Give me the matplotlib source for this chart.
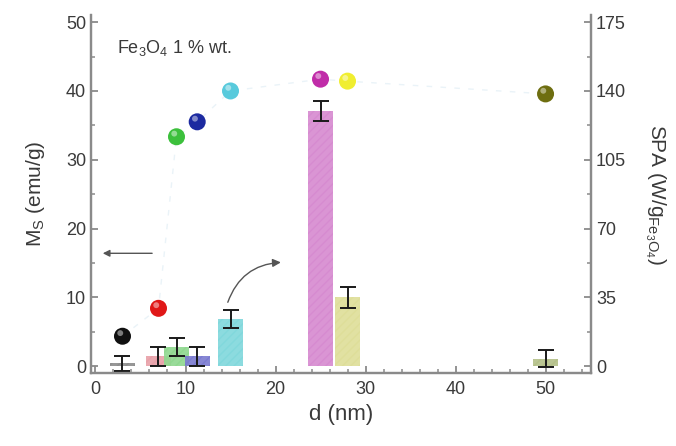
import matplotlib
matplotlib.use("Agg")
import matplotlib.pyplot as plt
from matplotlib.ticker import MultipleLocator

plt.rcParams['font.family'] = ['Liberation Sans', 'DejaVu Sans']

# Data
d_nm = [3, 7, 9, 11.3, 15, 25, 28, 50]
ms_values = [0.4, 1.45, 2.75, 1.45, 6.8, 37.1, 10.0, 1.1]
ms_errors = [1.1, 1.4, 1.3, 1.4, 1.3, 1.4, 1.5, 1.3]
spa_values = [15.2, 29.4, 116.7, 124.3, 140.0, 146.0, 145.0, 138.5]
bar_colors = ['#8c8c8c', '#e8a0a8', '#8ed88e', '#7a7ad0', '#80d8dc', '#d68ad0', '#dede98', '#b4c088']
point_colors = ['#101010', '#e01818', '#3cc03c', '#1c2aa0', '#58cadc', '#c02ca8', '#f0ee30', '#6e6e10']
x_ticks = [0, 10, 20, 30, 40, 50]
ms_ticks = [0, 10, 20, 30, 40, 50]
spa_ticks = [0, 35, 70, 105, 140, 175]

text_c = '#3a3a3a'
spine_c = '#8a8a8a'

fig = plt.figure(figsize=(6.76, 4.46), dpi=100)
ax = fig.add_axes([0.1346, 0.1637, 0.739, 0.802])
ax2 = ax.twinx()

for xi, h, e, c in zip(d_nm, ms_values, ms_errors, bar_colors):
    ax.bar(xi, h, width=2.8, color=c, alpha=0.9, edgecolor=c, hatch='////', linewidth=0, zorder=2)
ax.errorbar(d_nm, ms_values, yerr=ms_errors, fmt='none', ecolor='#1a1a1a',
            elinewidth=1.4, capsize=6, capthick=1.4, zorder=3)

ax2.plot(d_nm, spa_values, color='#eaf3f8', lw=1, ls=(0, (4, 6)), zorder=1)
ax2.scatter(d_nm, spa_values, s=150, c=point_colors, edgecolors='none', zorder=4)
ax2.scatter([x - 0.25 for x in d_nm], [v + 1.6 for v in spa_values], s=18, c='white',
            alpha=0.45, edgecolors='none', zorder=5)

ax.set_xlim(-0.5, 55)
ax.set_ylim(-1, 51)
ax2.set_ylim(-3.5, 178.5)

ax.set_xticks(x_ticks)
ax.set_yticks(ms_ticks)
ax2.set_yticks(spa_ticks)
ax.xaxis.set_minor_locator(MultipleLocator(2))
ax.yaxis.set_minor_locator(MultipleLocator(5))
ax2.yaxis.set_minor_locator(MultipleLocator(17.5))

for a in (ax, ax2):
    for s in a.spines.values():
        s.set_color(spine_c)
        s.set_linewidth(1.6)
    a.spines['top'].set_visible(False)
    a.tick_params(which='both', direction='in', colors=spine_c, labelcolor=text_c, labelsize=13)
    a.tick_params(which='major', length=5, width=1.3)
    a.tick_params(which='minor', length=3, width=1.1)
ax.tick_params(axis='x', pad=6)
ax2.tick_params(axis='y', pad=4)

ax.set_xlabel('d (nm)', fontsize=16, color=text_c, labelpad=4)
ax.set_ylabel('M$_\\mathregular{S}$ (emu/g)', fontsize=15, color=text_c, labelpad=14)
ax2.set_ylabel('SPA (W/g$_{\\mathregular{Fe_3O_4}}$)', fontsize=15, color=text_c,
               rotation=270, labelpad=30)

ax.text(2.4, 46.3, 'Fe$_\\mathregular{3}$O$_\\mathregular{4}$ 1 % wt.', fontsize=13,
        color=text_c, va='center', ha='left')

ax.annotate('', xy=(0.5, 16.4), xytext=(6.6, 16.4),
            arrowprops=dict(arrowstyle='-|>', color='#555555', lw=1.0, mutation_scale=10))
ax.annotate('', xy=(20.9, 15.1), xytext=(14.6, 8.9),
            arrowprops=dict(arrowstyle='-|>', color='#555555', lw=1.0, mutation_scale=12,
                            connectionstyle='arc3,rad=-0.35'))

fig.savefig('out.png', dpi=100)
